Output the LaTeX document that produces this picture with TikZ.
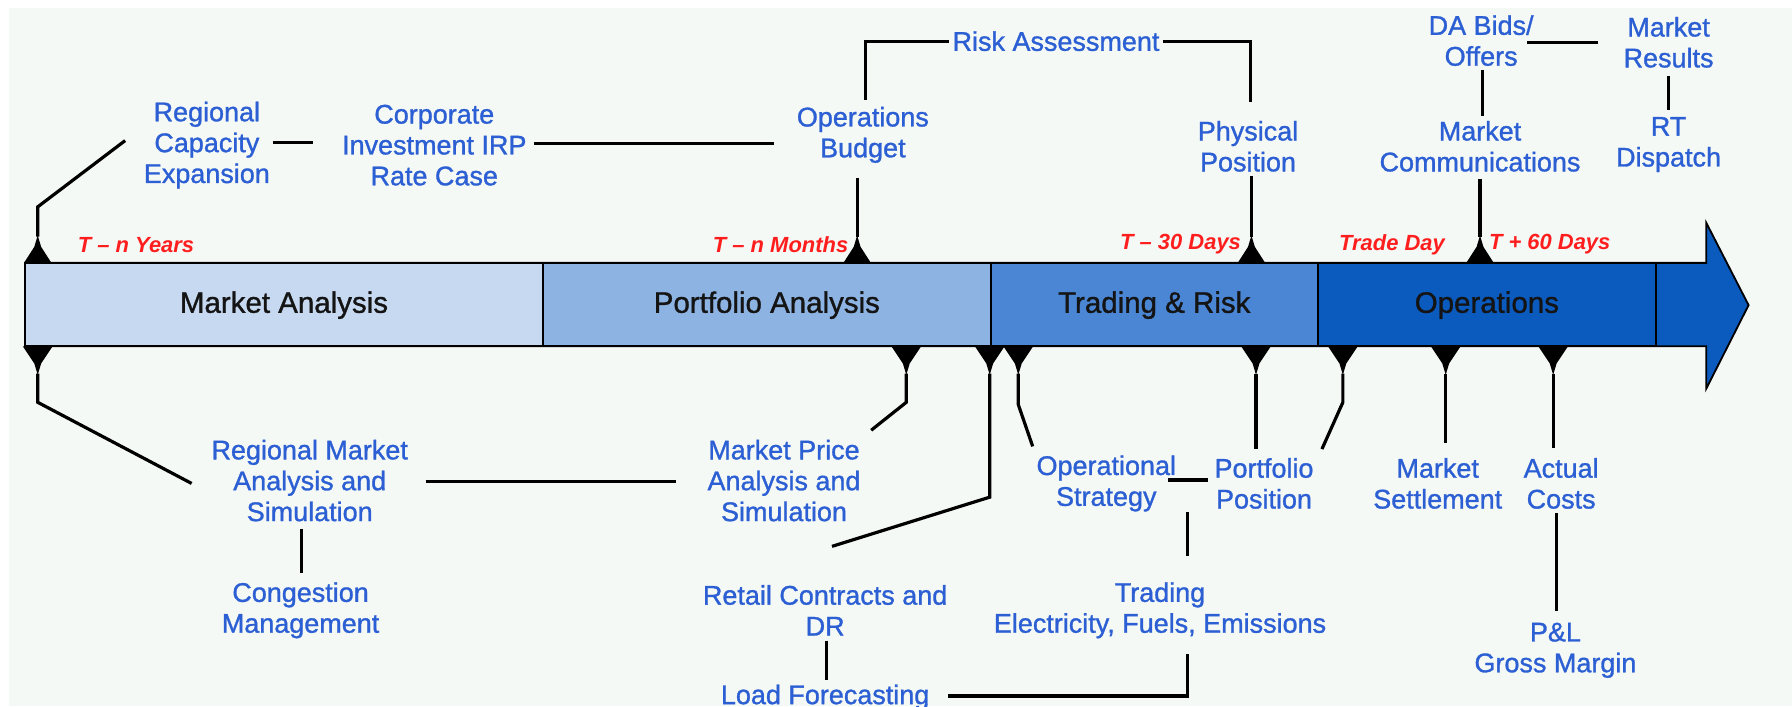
\documentclass[tikz,border=0pt]{standalone}
\usepackage{fontspec}
\setmainfont{Liberation Sans}
\newfontfamily\heavysans[FakeBold=1.1]{Liberation Sans}
\usetikzlibrary{calc}
\definecolor{bgc}{HTML}{F5F9F6}
\definecolor{txtblue}{HTML}{2B5FD3}
\definecolor{tred}{HTML}{FF1E1E}
\definecolor{maC}{HTML}{C6D9F1}
\definecolor{paC}{HTML}{8DB3E2}
\definecolor{trC}{HTML}{4A86D4}
\definecolor{opC}{HTML}{0B5BBF}
\begin{document}
\begin{tikzpicture}[x=0.5pt,y=-0.5pt,
  lbl/.style={font=\heavysans\fontsize{11.8}{13.5}\selectfont, text=txtblue, align=center, inner sep=0pt},
  barlbl/.style={font=\heavysans\fontsize{12.9}{15}\selectfont, text=black!92, inner sep=0pt},
  tlbl/.style={font=\fontsize{9.6}{11}\selectfont\bfseries\itshape, text=tred, inner sep=0pt},
  conn/.style={line width=1.4pt, draw=black},
  seg/.style={draw=black, line width=0.8pt},
  upmark/.pic={\fill[black] (-12,0) -- (-3,-14) -- (0,-24) -- (3,-14) -- (12,0) -- cycle;},
  dnmark/.pic={\fill[black] (-13,0) -- (-3,15) -- (0,25) -- (3,15) -- (13,0) -- cycle;}
]
\useasboundingbox (0,0) rectangle (1568,618);
\fill[white] (0,0) rectangle (1568,618);
\fill[bgc] (8,7) rectangle (1568,618);

% timeline arrow and phase boxes
\filldraw[fill=opC, draw=black, line width=0.8pt]
  (22,230) -- (1493,230) -- (1493,195) -- (1530,267) -- (1493,340) -- (1493,303) -- (22,303) -- cycle;
\filldraw[seg, fill=maC] (22,230) rectangle (475,303);
\filldraw[seg, fill=paC] (475,230) rectangle (867,303);
\filldraw[seg, fill=trC] (867,230) rectangle (1153,303);
\filldraw[seg, fill=opC] (1153,230) rectangle (1449,303);
\node[barlbl] (ma) at (248.5,267) {Market Analysis};
\node[barlbl] (pa) at (671,267) {Portfolio Analysis};
\node[barlbl] (tr2) at (1010,267) {Trading \& Risk};
\node[barlbl] (op) at (1301,267) {Operations};

% markers
\foreach \n/\x in {u1/33, u2/750, u3/1095, u4/1295} {
  \pic at (\x,230) {upmark};
  \coordinate (\n) at (\x,207);
}
\foreach \n/\x in {d1/33, d2/793, d3/866, d4/891, d5/1099, d6/1175, d7/1265, d8/1359} {
  \pic at (\x,303) {dnmark};
  \coordinate (\n) at (\x,327);
}

% time labels
\node[tlbl] (ty)  at (119,214)  {T – n Years};
\node[tlbl] (tm)  at (683,214)  {T – n Months};
\node[tlbl] (t30) at (1033,214) {T – 30 Days};
\node[tlbl] (td)  at (1218,214) {Trade Day};
\node[tlbl] (t60) at (1356,214) {T + 60 Days};

% top labels
\node[lbl] (rce)  at (181,127)    {Regional\\Capacity\\Expansion};
\node[lbl] (cir)  at (380,127)    {Corporate\\Investment IRP\\Rate Case};
\node[lbl] (ob)   at (755,118)    {Operations\\Budget};
\node[lbl] (ra)   at (924,36)     {Risk Assessment};
\node[lbl] (pp)   at (1092,128)   {Physical\\Position};
\node[lbl] (dab)  at (1296,35.5)  {DA Bids/\\Offers};
\node[lbl] (mr)   at (1460,37)    {Market\\Results};
\node[lbl] (mc)   at (1295,128)   {Market\\Communications};
\node[lbl] (rt)   at (1460,126.5) {RT\\Dispatch};

% bottom labels
\node[lbl] (rmas) at (271,420.5)  {Regional Market\\Analysis and\\Simulation};
\node[lbl] (mpas) at (686,420.5)  {Market Price\\Analysis and\\Simulation};
\node[lbl] (cm)   at (263,534)    {Congestion\\Management};
\node[lbl] (rcd)  at (722,534)    {Retail Contracts and\\DR};
\node[lbl] (lf)   at (722,610)    {Load Forecasting};
\node[lbl] (os)   at (968,423)    {Operational\\Strategy};
\node[lbl] (ppos) at (1106,423)   {Portfolio\\Position};
\node[lbl] (trd)  at (1015,534)   {Trading\\Electricity, Fuels, Emissions};
\node[lbl] (ms)   at (1258,423)   {Market\\Settlement};
\node[lbl] (ac)   at (1366,423)   {Actual\\Costs};
\node[lbl] (pl)   at (1361,569)   {P\&L\\Gross Margin};
\coordinate (jn) at (1039,448);

% top connectors
\draw[conn] (u1) -- ++(0,-26) -- ($(rce.west)+(-16,-4)$);
\draw[conn] ($(rce.east)+(2,-2)$) -- ($(rce.east -| cir.west)+(-25,-2)$);
\draw[conn] ($(cir.east)+(6,-1.5)$) -- ($(cir.east -| ob.west)+(-20,-1.5)$);
\draw[conn] ($(ob.north)+(2,-6)$) |- ($(ra.west)+(-3,0)$);
\draw[conn] ($(ra.east)+(3,0)$) -| ($(pp.north)+(2,-16)$);
\draw[conn] ($(u3 |- pp.south)+(0,3)$) -- (u3);
\draw[conn] ($(u2 |- ob.south)+(0,13)$) -- (u2);
\draw[conn] ($(dab.south)+(1,3)$) -- ($(mc.north)+(2,-4)$);
\draw[conn] ($(dab.east)+(-6,1.5)$) -- ($(dab.east -| mr.west)+(-22,1.5)$);
\draw[conn] ($(mr.south)+(0,7)$) -- ($(rt.north)+(0,-6)$);
\draw[conn] ($(u4 |- mc.south)+(0,6)$) -- (u4);

% bottom connectors
\draw[conn] (d1) -- ++(0,25) -- ($(rmas.west)+(-17,2.5)$);
\draw[conn] ($(rmas.east)+(15,0.5)$) -- ($(rmas.east -| mpas.west)+(-27,0.5)$);
\draw[conn] (d2) -- ++(0,25) -- ($(mpas.north east)+(9,-8)$);
\draw[conn] (d3) -- ++(0,108) -- ($(rcd.north)+(6,-33.5)$);
\draw[conn] ($(rmas.south)+(-7,6)$) -- ($(cm.north)+(1,-7.5)$);
\draw[conn] ($(rcd.south)+(1,4)$) -- ($(lf.north)+(1,-4)$);
\draw[conn] ($(lf.east)+(16,-1)$) -| ($(trd.south)+(24,13.5)$);
\draw[conn] ($(trd.north)+(24,-22.5)$) -- (jn);
\draw[conn] ($(os.east)+(-7,-3)$) -- ($(ppos.west)+(-5,-3)$);
\draw[conn] (d4) -- ++(0,27) -- ($(os.north west)+(-3,-7.5)$);
\draw[conn] (d5) -- ($(d5 |- ppos.north)+(0,-7.5)$);
\draw[conn] (d6) -- ++(0,25) -- ($(ppos.north east)+(7,-7.5)$);
\draw[conn] (d7) -- ($(d7 |- ms.north)+(0,-12.5)$);
\draw[conn] (d8) -- ($(d8 |- ac.north)+(0,-8.5)$);
\draw[conn] ($(ac.south)+(-4,3.5)$) -- ($(pl.north)+(1,-9.5)$);
\end{tikzpicture}
\end{document}
